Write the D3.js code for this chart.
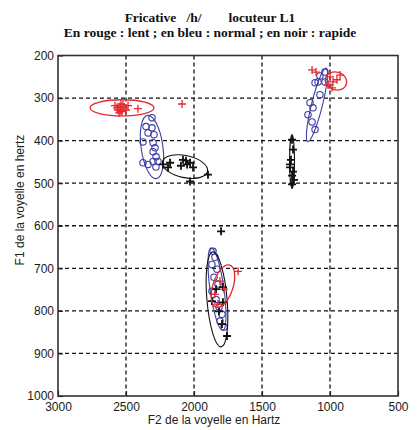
<!DOCTYPE html>
<html>
<head>
<meta charset="utf-8">
<script src="https://cdn.jsdelivr.net/npm/d3@7/dist/d3.min.js"></script>
<style>
  html, body { margin: 0; padding: 0; background: #fff; }
  svg { display: block; }
</style>
</head>
<body>
<svg id="chart" width="418" height="430"></svg>
<script>
// Axis ticks
const f2Ticks = [3000, 2500, 2000, 1500, 1000, 500];
const f1Ticks = [200, 300, 400, 500, 600, 700, 800, 900, 1000];

// Slow tempo (red +) : [F2, F1]
const lentPoints = [
  [2581, 318], [2559, 328], [2537, 314], [2529, 332], [2515, 323], [2500, 328],
  [2551, 335], [2566, 323], [2485, 318], [2545, 320], [2522, 316], [2540, 330],
  [2412, 325], [2088, 314],
  [1103, 239], [1132, 234], [1000, 250], [978, 262], [985, 276], [949, 257],
  [1015, 269], [926, 246],
  [1676, 707], [1809, 730], [1824, 784], [1779, 749], [1846, 761]
];
// Normal tempo (blue o)
const normalPoints = [
  [2309, 346], [2353, 367], [2309, 370], [2338, 382], [2294, 386], [2375, 403],
  [2301, 405], [2287, 417], [2301, 426], [2279, 438], [2375, 452], [2301, 449],
  [2265, 449], [2338, 456], [2280, 462],
  [1037, 239], [1088, 262], [1110, 264], [1037, 262], [1074, 248], [1147, 311],
  [1125, 323], [1162, 339], [1132, 356], [1110, 374], [1074, 292],
  [1860, 660], [1846, 674], [1868, 691], [1831, 702], [1853, 721], [1824, 737],
  [1868, 754], [1838, 773], [1816, 791], [1794, 808], [1809, 824], [1779, 838]
];
// Fast tempo (black +)
const rapidePoints = [
  [2228, 456], [2191, 463], [2176, 452], [2081, 445], [2051, 456], [2029, 452],
  [2059, 447], [2007, 463], [2096, 459], [1897, 480], [2029, 496],
  [1279, 398], [1272, 421], [1287, 445], [1294, 463], [1272, 473], [1279, 482],
  [1265, 492], [1279, 503], [1294, 456],
  [1801, 613], [1787, 744], [1868, 777], [1787, 780], [1794, 831], [1757, 859],
  [1838, 749], [1816, 801]
];

// Dispersion ellipses: [centre F2, centre F1, half-width in F2 Hz, half-height in F1 Hz, rotation deg]
const lentEllipses = [
  [2529, 323, 235, 19, 0],
  [956, 260, 80, 21, 15],
  [1787, 742, 74, 52, 18]
];
const normalEllipses = [
  [2309, 415, 80, 75, -8],
  [1096, 316, 40, 89, 14],
  [1831, 749, 51, 98, -8]
];
const rapideEllipses = [
  [2066, 461, 169, 26, 12],
  [1279, 449, 18, 63, 0],
  [1831, 773, 74, 112, -5]
];

const titleLines = [
  "Fricative   /h/        locuteur L1",
  "En rouge : lent ; en bleu : normal ; en noir : rapide"
];

const svg = d3.select("#chart");
const plotL = 58, plotR = 398, plotT = 55.5, plotB = 396;

const x = d3.scaleLinear().domain([3000, 500]).range([plotL, plotR]);
const y = d3.scaleLinear().domain([200, 1000]).range([plotT, plotB]);

const RED = "#e8262c", BLUE = "#3b3da6", BLACK = "#111";
const tickFont = "'Liberation Sans Narrow', 'Arial Narrow', sans-serif";

// Dashed grid
svg.append("g").selectAll("line")
  .data(f2Ticks.slice(1, -1)).join("line")
  .attr("x1", d => x(d)).attr("x2", d => x(d))
  .attr("y1", plotT).attr("y2", plotB)
  .attr("stroke", "#111").attr("stroke-width", 1.3).attr("stroke-dasharray", "4,3");
svg.append("g").selectAll("line")
  .data(f1Ticks.slice(1, -1)).join("line")
  .attr("y1", d => y(d)).attr("y2", d => y(d))
  .attr("x1", plotL).attr("x2", plotR)
  .attr("stroke", "#111").attr("stroke-width", 1.3).attr("stroke-dasharray", "4,3");

// Axes
const xAxis = svg.append("g").attr("transform", `translate(0,${plotB})`)
  .call(d3.axisBottom(x).tickValues(f2Ticks).tickFormat(d3.format("d"))
    .tickSizeInner(-5).tickSizeOuter(0).tickPadding(6));
const yAxis = svg.append("g").attr("transform", `translate(${plotL},0)`)
  .call(d3.axisLeft(y).tickValues(f1Ticks).tickFormat(d3.format("d"))
    .tickSizeInner(-5).tickSizeOuter(0).tickPadding(4));
[xAxis, yAxis].forEach(g => {
  g.select(".domain").remove();
  g.selectAll("line").attr("stroke", "#222").attr("stroke-width", 1.2);
  g.selectAll("text").attr("font-family", tickFont).attr("font-size", 12)
    .attr("fill", "#1a1a1a");
});

// Frame
svg.append("rect")
  .attr("x", plotL).attr("y", plotT)
  .attr("width", plotR - plotL).attr("height", plotB - plotT)
  .attr("fill", "none").attr("stroke", "#333").attr("stroke-width", 1.6);

// Ellipses drawn through the scales
function drawEllipses(data, color, width) {
  svg.append("g").selectAll("ellipse").data(data).join("ellipse")
    .attr("cx", 0).attr("cy", 0)
    .attr("rx", d => Math.abs(x(d[0] + d[2]) - x(d[0])))
    .attr("ry", d => Math.abs(y(d[1] + d[3]) - y(d[1])))
    .attr("transform", d => `translate(${x(d[0])},${y(d[1])}) rotate(${d[4]})`)
    .attr("fill", "none").attr("stroke", color).attr("stroke-width", width);
}
function drawCrosses(data, color, size, width) {
  const g = svg.append("g");
  g.selectAll("path").data(data).join("path")
    .attr("d", d => {
      const px = x(d[0]), py = y(d[1]);
      return `M${px - size},${py}H${px + size}M${px},${py - size}V${py + size}`;
    })
    .attr("stroke", color).attr("stroke-width", width).attr("fill", "none");
}

// Normal (blue)
drawEllipses(normalEllipses, BLUE, 1.1);
svg.append("g").selectAll("circle").data(normalPoints).join("circle")
  .attr("cx", d => x(d[0])).attr("cy", d => y(d[1])).attr("r", 3.2)
  .attr("fill", "none").attr("stroke", BLUE).attr("stroke-width", 1.1);

// Fast (black)
drawEllipses(rapideEllipses, BLACK, 1.1);
drawCrosses(rapidePoints, BLACK, 4, 1.8);

// Slow (red)
drawEllipses(lentEllipses, RED, 1.3);
drawCrosses(lentPoints, RED, 4, 1.3);

// Titles
svg.append("g").selectAll("text").data(titleLines).join("text")
  .attr("x", 210).attr("y", (d, i) => 22 + i * 15)
  .attr("text-anchor", "middle")
  .attr("font-family", "'Liberation Serif', 'Times New Roman', serif")
  .attr("font-size", 13.5).attr("font-weight", "bold").attr("fill", "#111")
  .style("white-space", "pre")
  .text(d => d);

// Axis titles
svg.append("text")
  .attr("x", 214).attr("y", 424).attr("text-anchor", "middle")
  .attr("font-family", tickFont).attr("font-size", 12).attr("fill", "#222")
  .text("F2 de la voyelle  en Hartz");
svg.append("text")
  .attr("transform", "translate(24,200) rotate(-90)").attr("text-anchor", "middle")
  .attr("font-family", tickFont).attr("font-size", 12).attr("fill", "#222")
  .text("F1 de la voyelle en hertz");
</script>
</body>
</html>
